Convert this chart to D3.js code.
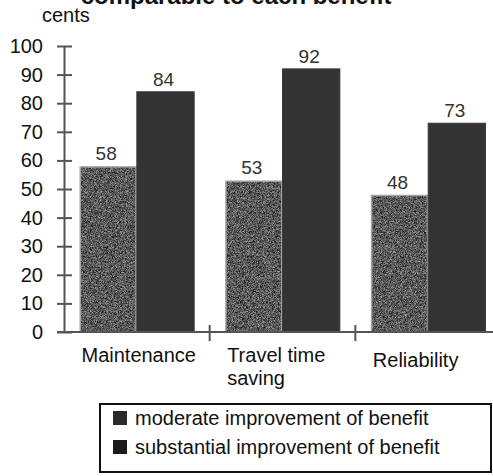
<!DOCTYPE html>
<html>
<head>
<meta charset="utf-8">
<script src="https://cdn.jsdelivr.net/npm/d3@7/dist/d3.min.js"></script>
<style>
  html, body { margin: 0; padding: 0; background: #fff; }
  svg { display: block; font-family: "Liberation Sans", Arial, Helvetica, sans-serif; }
</style>
</head>
<body>
<svg id="chart" width="493" height="476"></svg>
<script>
// Willingness to pay (cents) for each benefit
const categories = ["Maintenance", "Travel time saving", "Reliability"];
const categoryLines = [["Maintenance"], ["Travel time", "saving"], ["Reliability"]];
const seriesNames = ["moderate improvement of benefit", "substantial improvement of benefit"];
const moderate = [58, 53, 48];
const substantial = [84, 92, 73];
const yTicks = [0, 10, 20, 30, 40, 50, 60, 70, 80, 90, 100];

const rows = categories.map((c, i) => ({
  category: c,
  values: [
    { key: seriesNames[0], value: moderate[i] },
    { key: seriesNames[1], value: substantial[i] }
  ]
}));

const svg = d3.select("#chart");
const W = 493;

// fine stippled grey texture for the "moderate" bars
const defs = svg.append("defs");
const grain = defs.append("filter").attr("id", "grain")
  .attr("x", 0).attr("y", 0).attr("width", 1).attr("height", 1)
  .attr("color-interpolation-filters", "sRGB");
grain.append("feTurbulence").attr("type", "fractalNoise")
  .attr("baseFrequency", 2.2).attr("numOctaves", 1).attr("seed", 5).attr("result", "noise");
grain.append("feColorMatrix").attr("in", "noise").attr("type", "matrix")
  .attr("values", "1.0 0 0 0 -0.15  1.0 0 0 0 -0.15  1.0 0 0 0 -0.15  0 0 0 0 1")
  .attr("result", "gray");
grain.append("feComposite").attr("in", "gray").attr("in2", "SourceGraphic").attr("operator", "in");

const x0 = d3.scaleBand().domain(categories).range([64, 501]).paddingInner(0).paddingOuter(0);
const x1 = d3.scaleBand().domain(seriesNames).range([0, x0.bandwidth()]).paddingInner(0).paddingOuter(0.27);
const y = d3.scaleLinear().domain([0, 100]).range([332, 46]);

// second line of the heading, its upper part runs off the top edge
svg.append("text")
  .attr("x", 236).attr("y", 4)
  .attr("text-anchor", "middle")
  .attr("font-size", 24).attr("font-weight", "bold").attr("fill", "#111")
  .text("comparable to each benefit");

svg.append("text")
  .attr("x", 42).attr("y", 22)
  .attr("font-size", 20).attr("fill", "#111")
  .text("cents");

// bars
const groups = svg.append("g").selectAll("g").data(rows).join("g")
  .attr("transform", d => `translate(${x0(d.category)},0)`);

// light rim behind the stippled bars
groups.selectAll("rect.under").data(d => d.values.slice(0, 1)).join("rect")
  .attr("class", "under")
  .attr("x", d => x1(d.key))
  .attr("y", d => y(d.value))
  .attr("width", x1.bandwidth())
  .attr("height", d => y(0) - y(d.value))
  .attr("fill", "#a5a5a5");

groups.selectAll("rect.bar").data(d => d.values).join("rect")
  .attr("class", "bar")
  .attr("x", (d, i) => x1(d.key) + (i === 0 ? 1.5 : 0))
  .attr("y", (d, i) => y(d.value) + (i === 0 ? 1.5 : 0))
  .attr("width", (d, i) => x1.bandwidth() - (i === 0 ? 3 : 0))
  .attr("height", (d, i) => y(0) - y(d.value) - (i === 0 ? 1.5 : 0))
  .attr("fill", (d, i) => i === 0 ? "#fff" : "#333")
  .attr("stroke", (d, i) => i === 0 ? "none" : "#3a3a3a")
  .attr("filter", (d, i) => i === 0 ? "url(#grain)" : null);

groups.selectAll("text.val").data(d => d.values).join("text")
  .attr("class", "val")
  .attr("x", d => x1(d.key) + x1.bandwidth() / 2 - 2)
  .attr("y", d => y(d.value) - 6)
  .attr("text-anchor", "middle")
  .attr("font-size", 19).attr("fill", "#333")
  .text(d => d.value);

// y axis
const yAxis = svg.append("g").attr("transform", "translate(64,0)")
  .call(d3.axisLeft(y).tickValues(yTicks).tickSize(7).tickSizeOuter(0).tickPadding(14));
yAxis.select(".domain").attr("stroke", "#555").attr("stroke-width", 2);
yAxis.selectAll(".tick line").attr("stroke", "#555").attr("stroke-width", 2).attr("x2", 8).attr("x1", -7);
yAxis.selectAll(".tick text").attr("font-size", 20).attr("fill", "#111")
  .attr("font-family", "Liberation Sans, Arial, sans-serif").attr("x", -21);

// x axis line with separators between categories
const xAxisG = svg.append("g");
xAxisG.append("line").attr("x1", 57).attr("x2", W).attr("y1", y(0)).attr("y2", y(0))
  .attr("stroke", "#555").attr("stroke-width", 2);
xAxisG.selectAll("line.sep").data(categories.slice(1)).join("line")
  .attr("class", "sep")
  .attr("x1", d => x0(d)).attr("x2", d => x0(d))
  .attr("y1", y(0) - 7).attr("y2", y(0) + 9)
  .attr("stroke", "#555").attr("stroke-width", 2);

// category labels, left aligned under the first bar of each group
const labelBase = [362, 362, 367];
categoryLines.forEach((lines, i) => {
  const lx = x0(categories[i]) + x1(seriesNames[0]) + 2;
  const t = svg.append("text")
    .attr("x", lx).attr("y", labelBase[i])
    .attr("font-size", 20).attr("fill", "#111");
  lines.forEach((ln, j) => {
    t.append("tspan").attr("x", lx).attr("dy", j === 0 ? 0 : 23).text(ln);
  });
});

// legend
const legend = svg.append("g");
legend.append("rect").attr("x", 100).attr("y", 404).attr("width", 391).attr("height", 68)
  .attr("fill", "#fff").attr("stroke", "#111").attr("stroke-width", 2);
const legBase = [425, 454];
seriesNames.forEach((name, i) => {
  legend.append("rect").attr("x", 113).attr("y", legBase[i] - 14).attr("width", 14).attr("height", 14)
    .attr("fill", i === 0 ? "#2a2a2a" : "#1a1a1a");
  legend.append("text").attr("x", 135).attr("y", legBase[i])
    .attr("font-size", 20).attr("fill", "#111").text(name);
});
</script>
</body>
</html>
